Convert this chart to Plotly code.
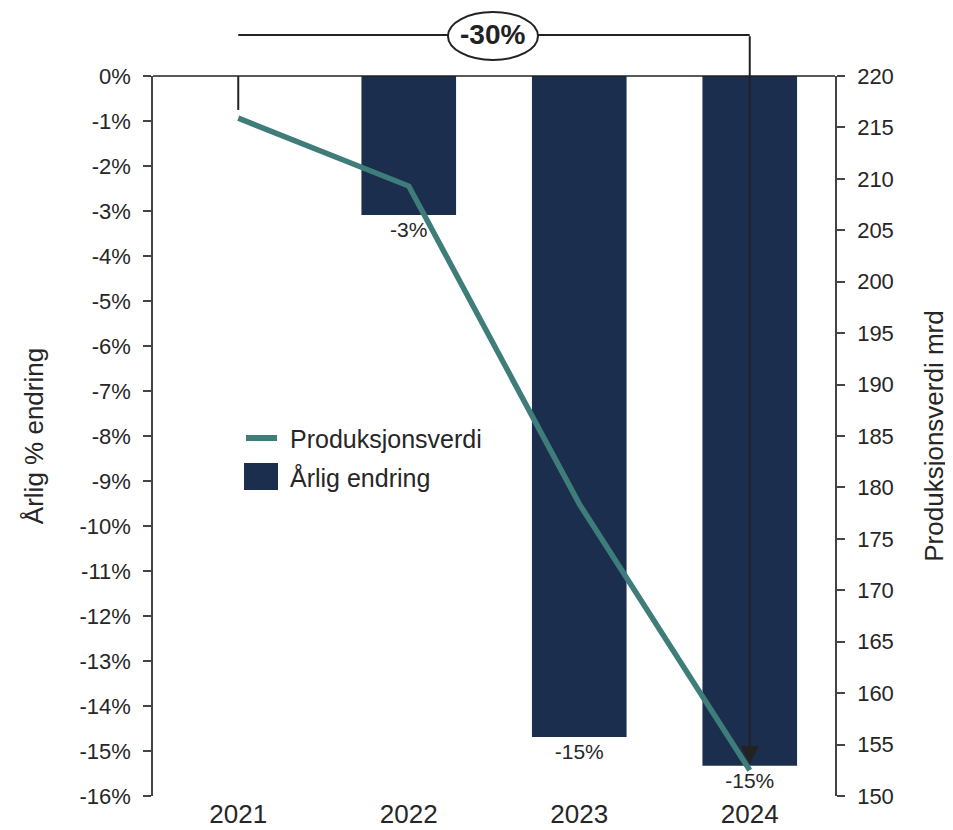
import plotly.graph_objects as go

years = ["2021", "2022", "2023", "2024"]
annual_change = [None, -3.09, -14.69, -15.33]   # Årlig % endring
production = [215.9, 209.3, 178.4, 152.5]       # Produksjonsverdi mrd
total_change_label = "-30%"
series_names = ["Produksjonsverdi", "Årlig endring"]

left_ticks = list(range(0, -17, -1))
left_ticktext = [f"{v}%" for v in left_ticks]
right_ticks = list(range(150, 221, 5))

BAR = "#1B2E4D"
LINE = "#3F7D7A"
TXT = "#262626"
DARK = "#222222"
FONT = "Liberation Sans, Arial, sans-serif"

# page body adds an 8px offset; the figure is sized to fit the window
OFF = 8
W, H = 953 - OFF, 830 - OFF
L, T = 153 - OFF, 76 - OFF
R = W - (835 - OFF)
B = H - (796 - OFF)
PW, PH = W - L - R, H - T - B


def px_x(px):
    return (px - OFF - L) / PW


def px_y(py):
    return 1 - (py - OFF - T) / PH


bar_text = ["" if v is None else f"{round(v)}%" for v in annual_change]

fig = go.Figure()
fig.add_trace(go.Bar(
    x=years, y=annual_change, name=series_names[1],
    marker=dict(color=BAR, line=dict(width=0)),
    width=0.555,
    text=bar_text, textposition="outside",
    textfont=dict(size=21, color=TXT, family=FONT),
    cliponaxis=False, showlegend=False,
))
fig.add_trace(go.Scatter(
    x=years, y=production, name=series_names[0], yaxis="y2",
    mode="lines", line=dict(color=LINE, width=5.5),
    showlegend=False,
))

top_paper = px_y(35)
shapes = [
    dict(type="line", xref="paper", yref="paper", x0=0, x1=1, y0=1, y1=1,
         line=dict(color=DARK, width=1.5), layer="above"),
    dict(type="line", xref="x", yref="paper", x0=0, x1=3, y0=top_paper, y1=top_paper,
         line=dict(color=DARK, width=2)),
    dict(type="line", xref="x", yref="y2", x0=0, x1=0, y0=production[0] + 0.8, y1=224,
         line=dict(color=DARK, width=2)),
    dict(type="circle", xref="x", yref="paper", x0=1.23, x1=1.758,
         y0=px_y(60), y1=px_y(12),
         line=dict(color=DARK, width=2), fillcolor="white"),
    dict(type="line", xref="paper", yref="paper", x0=px_x(246), x1=px_x(277),
         y0=px_y(438), y1=px_y(438), line=dict(color=LINE, width=6)),
    dict(type="rect", xref="paper", yref="paper", x0=px_x(244), x1=px_x(278),
         y0=px_y(490), y1=px_y(463), fillcolor=BAR, line=dict(width=0)),
]

annotations = [
    dict(x=1.494, y=top_paper, xref="x", yref="paper", text="<b>" + total_change_label + "</b>",
         showarrow=False, yanchor="middle", xanchor="center",
         font=dict(size=28, color=DARK, family=FONT)),
    dict(x=3, y=production[-1] + 0.6, xref="x", yref="y2",
         ax=3, ay=224, axref="x", ayref="y2",
         showarrow=True, arrowhead=2, arrowsize=1.8, arrowwidth=2, arrowcolor=DARK,
         text=""),
    dict(x=px_x(288), y=px_y(439), xref="paper", yref="paper", text=series_names[0],
         showarrow=False, xanchor="left", yanchor="middle",
         font=dict(size=25, color=TXT, family=FONT)),
    dict(x=px_x(288), y=px_y(477), xref="paper", yref="paper", text=series_names[1],
         showarrow=False, xanchor="left", yanchor="middle",
         font=dict(size=25, color=TXT, family=FONT)),
]

fig.update_layout(
    width=W, height=H,
    margin=dict(l=L, r=R, t=T, b=B, autoexpand=False),
    paper_bgcolor="white", plot_bgcolor="white",
    font=dict(family=FONT, color=TXT),
    showlegend=False,
    xaxis=dict(type="category", range=[-0.5, 3.5], showline=False, showgrid=False,
               zeroline=False, ticks="", automargin=False, ticklabelstandoff=0,
               tickfont=dict(size=26, color=TXT, family=FONT)),
    yaxis=dict(range=[-16, 0], tickvals=left_ticks, ticktext=left_ticktext, automargin=False,
               showgrid=False, zeroline=False, showline=True, linecolor="#444444", linewidth=1.5,
               ticks="outside", ticklen=8, tickcolor="#444444", tickwidth=1.5,
               ticklabelstandoff=8,
               tickfont=dict(size=22, color=TXT, family=FONT),
               title=dict(text="Årlig % endring", font=dict(size=26, color=TXT, family=FONT), standoff=28)),
    yaxis2=dict(range=[150, 220], tickvals=right_ticks, overlaying="y", side="right", automargin=False,
                showgrid=False, zeroline=False, showline=True, linecolor="#444444", linewidth=1.5,
                ticks="outside", ticklen=8, tickcolor="#444444", tickwidth=1.5,
                ticklabelstandoff=8,
                tickfont=dict(size=22, color=TXT, family=FONT),
                title=dict(text="Produksjonsverdi mrd", font=dict(size=26, color=TXT, family=FONT), standoff=32)),
    shapes=shapes,
    annotations=annotations,
)

fig.write_html("out.html")
